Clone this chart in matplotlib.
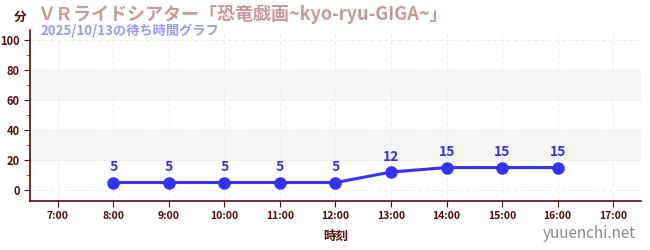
import matplotlib.pyplot as plt
from matplotlib.ticker import MultipleLocator

plt.rcParams['font.family'] = ['Noto Sans CJK JP', 'DejaVu Sans']

# data
hours = [8, 9, 10, 11, 12, 13, 14, 15, 16]
waits = [5, 5, 5, 5, 5, 12, 15, 15, 15]
xtick_hours = list(range(7, 18))
xtick_labels = [f"{h}:00" for h in xtick_hours]
yticks = [0, 20, 40, 60, 80, 100]

title = "ＶＲライドシアター「恐竜戯画~kyo-ryu-GIGA~」"
subtitle = "2025/10/13の待ち時間グラフ"

axis_color = "#5a0a0a"
line_color = "#3333ff"

fig = plt.figure(figsize=(6.5, 2.5), dpi=100)
ax = fig.add_axes([30 / 650, 49 / 250, 611 / 650, 171 / 250])

ax.set_xlim(6.5, 17.5)
ax.set_ylim(-7.3, 106.7)

# light bands
for lo, hi in [(20, 40), (60, 80)]:
    ax.axhspan(lo, hi, color="#f5f5f5", zorder=0)

ax.grid(True, color="#ececec", linestyle=(0, (4, 3)), linewidth=0.7, zorder=0)

ax.plot(hours, waits, color=line_color, linewidth=2.2, marker="o",
        markersize=8, zorder=3)
for h, w in zip(hours, waits):
    ax.annotate(str(w), (h, w), xytext=(0, 6), textcoords="offset points",
                ha="center", va="bottom", color=line_color,
                fontsize=10, fontweight="bold")

ax.set_xticks(xtick_hours)
ax.set_xticklabels(xtick_labels)
ax.set_yticks(yticks)
ax.yaxis.set_minor_locator(MultipleLocator(10))

for s in ["top", "right"]:
    ax.spines[s].set_visible(False)
for s in ["left", "bottom"]:
    ax.spines[s].set_color(axis_color)
    ax.spines[s].set_linewidth(1.2)

ax.tick_params(axis="both", colors=axis_color, labelsize=8, length=4)
ax.tick_params(axis="y", which="minor", color="#dd2222", length=3)
ax.tick_params(axis="x", labelsize=7.5)
for lbl in ax.get_xticklabels() + ax.get_yticklabels():
    lbl.set_fontweight("bold")

ax.set_xlabel("時刻", color=axis_color, fontsize=9, fontweight="bold", labelpad=6)

fig.text(20 / 650, 1 - 17 / 250, "分", color=axis_color, fontsize=9,
         fontweight="bold", ha="center", va="center")
fig.text(37 / 650, 1 - 15 / 250, title, color="#c99999", fontsize=13,
         fontweight="bold", ha="left", va="center")
fig.text(40 / 650, 1 - 31 / 250, subtitle, color="#9999ff", fontsize=9.5,
         fontweight="bold", ha="left", va="center")
fig.text(636 / 650, 1 - 233 / 250, "yuuenchi.net", color="#888888",
         fontsize=11, ha="right", va="center")

fig.savefig("out.png", dpi=100)
